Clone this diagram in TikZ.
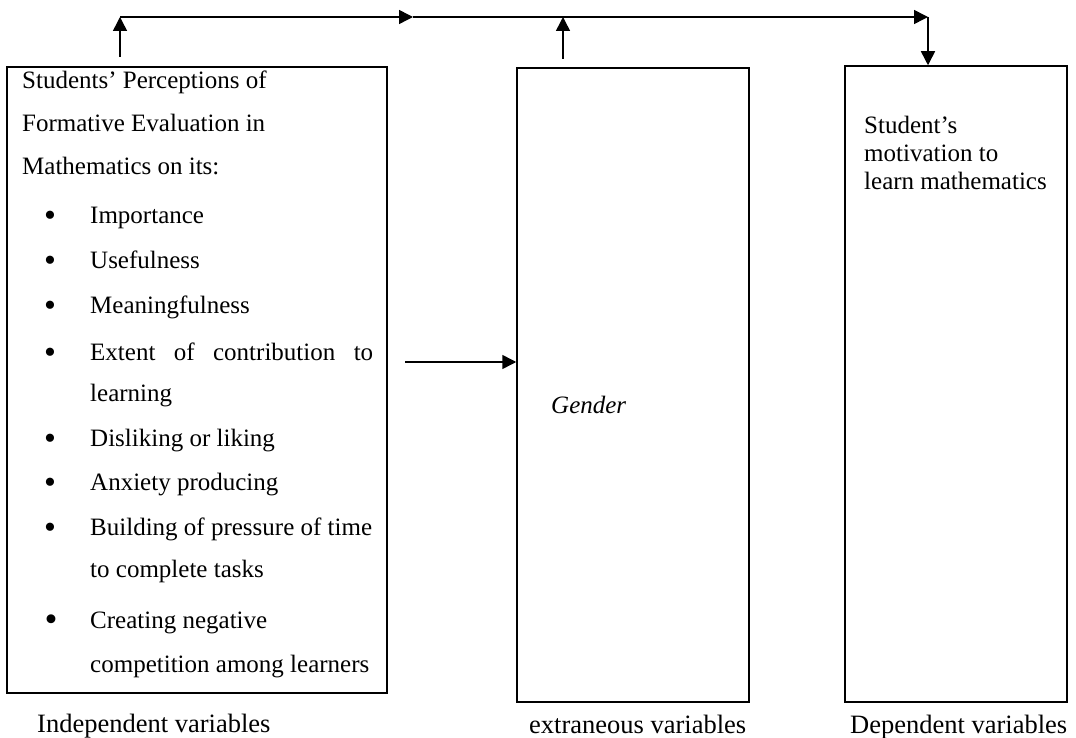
\documentclass[tikz,border=0pt]{standalone}
\usepackage{fontspec}
\setmainfont{Liberation Serif}
\usetikzlibrary{arrows.meta}
\tikzset{
  box/.style={draw, line width=1.5pt, inner sep=0pt},
  arr/.style={line width=1.5pt, -{Triangle[length=14pt,width=14pt]}},
  txt/.style={anchor=base west, inner sep=0pt, font=\fontsize{25}{29}\selectfont},
  lbl/.style={anchor=base west, inner sep=0pt, font=\fontsize{26.5}{30}\selectfont},
  bul/.style={anchor=center, inner sep=0pt, yshift=-5pt, font=\fontsize{34}{36}\selectfont},
}
\begin{document}
\begin{tikzpicture}[x=1pt,y=-1pt]
\useasboundingbox (0,0) rectangle (1076,738);
% boxes
\node[box, minimum width=380pt, minimum height=626pt] (L) at (197,380) {};
\node[box, minimum width=232pt, minimum height=634pt] (M) at (633,385) {};
\node[box, minimum width=222pt, minimum height=636pt] (R) at (956,384) {};
% left box text
\node[txt] (l1) at (22,89) {Students’ Perceptions of};
\node[txt] (l2) at (22,132) {Formative Evaluation in};
\node[txt] (l3) at (22,175) {Mathematics on its:};
\node[bul] (b1) at (50,214) {•};
\node[txt] (i1) at (90,223) {Importance};
\node[bul] (b2) at (50,259) {•};
\node[txt] (i2) at (90,268) {Usefulness};
\node[bul] (b3) at (50,304) {•};
\node[txt] (i3) at (90,313) {Meaningfulness};
\node[bul] (b4) at (50,351) {•};
\node[txt] (i4) at (90,360) {\makebox[283pt][s]{Extent of contribution to}};
\node[txt] (i4b) at (90,401) {learning};
\node[bul] (b5) at (50,437) {•};
\node[txt] (i5) at (90,446) {Disliking or liking};
\node[bul] (b6) at (50,481) {•};
\node[txt] (i6) at (90,490) {Anxiety producing};
\node[bul] (b7) at (50,526) {•};
\node[txt] (i7) at (90,535) {Building of pressure of time};
\node[txt] (i7b) at (90,577) {to complete tasks};
\node[bul, font=\fontsize{37}{39}\selectfont] (b8) at (51,618) {•};
\node[txt] (i8) at (90,628) {Creating negative};
\node[txt] (i8b) at (90,672) {competition among learners};
% middle and right text
\node[txt, font=\fontsize{25}{29}\selectfont\itshape] (g) at (551,413) {Gender};
\node[txt] (r1) at (864,134) {Student’s};
\node[txt] (r2) at (864,162) {motivation to};
\node[txt] (r3) at (864,190) {learn mathematics};
% labels
\node[lbl] (lab1) at (37,732) {Independent variables};
\node[lbl] (lab2) at (529,733) {extraneous variables};
\node[lbl] (lab3) at (850,733) {Dependent variables};
% connectors
\coordinate (lsrc) at (120,57);
\coordinate (tl) at (120,17);
\coordinate (tmid) at (413,17);
\coordinate (tm) at (563,17);
\coordinate (msrc) at (563,59);
\coordinate (tr) at (928,17);
\coordinate (hsrc) at (405,362);
\draw[arr] (lsrc) -- (tl);
\draw[arr] (tl) -- (tmid);
\draw[arr] (tmid) -- (tr);
\draw[arr] (msrc) -- (tm);
\draw[arr] (tr) -- (tr |- R.north);
\draw[arr] (hsrc) -- (hsrc -| M.west);
\end{tikzpicture}
\end{document}
